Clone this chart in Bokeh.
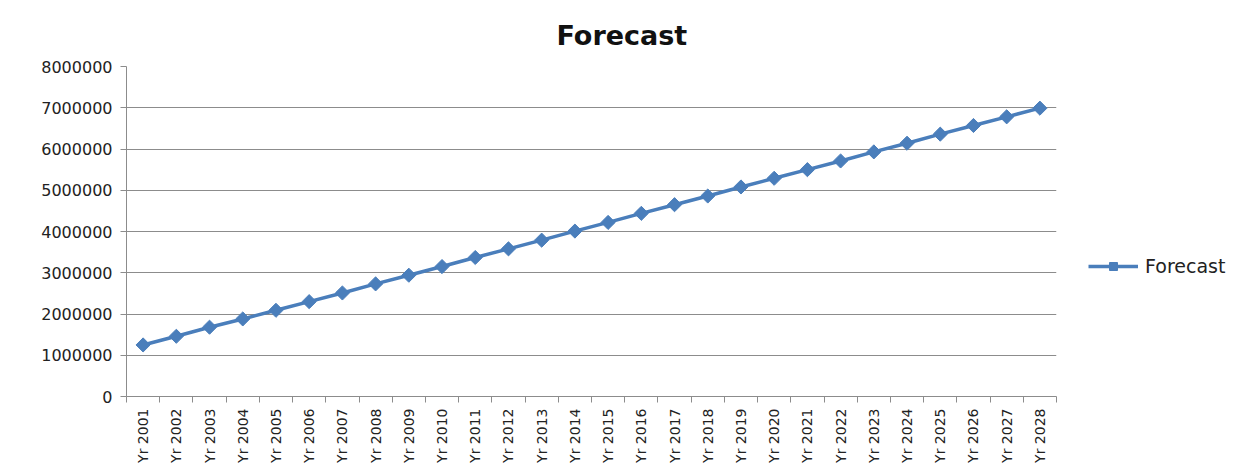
import math
from bokeh.plotting import figure
from bokeh.models import (Range1d, FixedTicker, CustomJSTickFormatter,
                          Legend, LegendItem, ColumnDataSource)
from bokeh.embed import file_html
from bokeh.resources import INLINE

years = ["Yr %d" % y for y in range(2001, 2029)]
forecast = [1250000, 1460000, 1680000, 1880000, 2090000, 2300000, 2510000,
            2730000, 2940000, 3150000, 3370000, 3580000, 3790000, 4010000,
            4220000, 4440000, 4650000, 4860000, 5080000, 5290000, 5500000,
            5710000, 5930000, 6140000, 6360000, 6570000, 6780000, 6990000]
y_ticks = [0, 1000000, 2000000, 3000000, 4000000, 5000000, 6000000, 7000000, 8000000]

xpos = [i + 0.5 for i in range(len(years))]
src = ColumnDataSource(dict(x=xpos, y=forecast, label=years))

BLUE = "#4A7EBB"
GRID = "#8C8C8C"
FONT = "DejaVu Sans"

p = figure(frame_width=930, frame_height=330, output_backend="svg", toolbar_location=None,
           x_range=Range1d(0, len(years)), y_range=Range1d(0, 8000000),
           min_border_left=126, min_border_right=183, min_border_top=66,
           min_border_bottom=73)
p.outline_line_color = None
p.background_fill_color = "white"
p.border_fill_color = "white"

p.title.text = "Forecast"
p.title.text_font = FONT
p.title.text_font_style = "bold"
p.title.text_font_size = "27px"
p.title.text_color = "#111111"
p.title.align = "left"
p.title.offset = 430
p.title.standoff = 32

# x axis: labels at category centres, tick marks at category boundaries
xa = p.xaxis[0]
xa.ticker = FixedTicker(ticks=xpos, minor_ticks=list(range(len(years) + 1)))
xa.formatter = CustomJSTickFormatter(args=dict(labels=years),
                                     code="return labels[Math.floor(tick)] || '';")
xa.major_label_orientation = math.pi / 2
xa.major_tick_out = 0
xa.major_tick_in = 0
xa.minor_tick_out = 6
xa.minor_tick_in = 0
xa.minor_tick_line_color = GRID
xa.axis_line_color = GRID
xa.axis_line_width = 1
xa.major_label_text_font = FONT
xa.major_label_text_font_size = "14px"
xa.major_label_text_color = "#222222"
xa.major_label_standoff = 6

ya = p.yaxis[0]
ya.ticker = FixedTicker(ticks=y_ticks)
ya.formatter = CustomJSTickFormatter(code="return tick.toFixed(0);")
ya.major_tick_out = 6
ya.major_tick_in = 0
ya.minor_tick_out = 0
ya.minor_tick_in = 0
ya.major_tick_line_color = GRID
ya.axis_line_color = GRID
ya.major_label_text_font = FONT
ya.major_label_text_font_size = "16px"
ya.major_label_text_color = "#222222"
ya.major_label_standoff = 8

p.xgrid.grid_line_color = None
p.ygrid.ticker = FixedTicker(ticks=y_ticks)
p.ygrid.grid_line_color = GRID
p.ygrid.grid_line_width = 1

ln = p.line("x", "y", source=src, line_color=BLUE, line_width=3.5)
sc = p.scatter("x", "y", source=src, marker="square", angle=math.pi / 4,
               size=10, fill_color=BLUE, line_color=BLUE)

legend = Legend(items=[LegendItem(label="Forecast", renderers=[ln, sc])],
                location=(32, 119), padding=0, margin=0, spacing=0,
                glyph_width=50, glyph_height=20, label_height=20,
                label_standoff=7, border_line_color=None,
                background_fill_alpha=0, label_text_font=FONT,
                label_text_font_size="19px", label_text_color="#222222")
p.add_layout(legend, "right")

open("out.html", "w").write(file_html(p, INLINE))
